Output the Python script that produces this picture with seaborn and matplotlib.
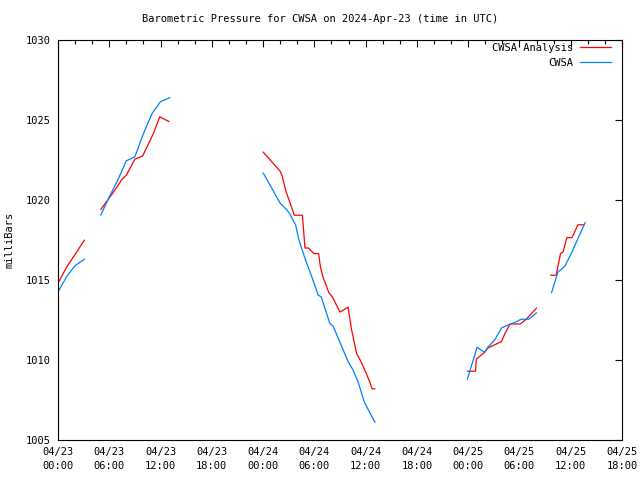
import pandas as pd
import numpy as np
import matplotlib
matplotlib.use('Agg')
import matplotlib.pyplot as plt
import matplotlib.dates as mdates
import seaborn as sns

## data: hours after 2024-04-23 00:00 UTC, pressure in mb
start = pd.Timestamp('2024-04-23 00:00')

# CWSA Analysis (red), one list per unbroken piece
ana_hours = [
    [0, 1, 2, 3.1],
    [5, 6.5, 7.5, 8, 9, 9.9, 10.4, 11.2, 11.9, 13.0],
    [24, 26, 26.2, 26.7, 27.5, 27.65, 28.6, 28.9, 29.3, 29.95, 30.5, 30.7, 31.0,
     31.7, 32.1, 33.0, 33.95, 34.35, 34.95, 35.5, 36.4, 36.75, 37.1],
    [47.9, 48.85, 48.95, 49.95, 50.3, 51.1, 51.9, 52.3, 52.9, 54.1, 54.8, 56.0],
    [57.65, 58.3, 58.8, 59.1, 59.55, 60.15, 60.85, 61.6],
]
ana_vals = [
    [1014.8, 1015.8, 1016.6, 1017.5],
    [1019.4, 1020.5, 1021.3, 1021.55, 1022.55, 1022.75, 1023.3, 1024.2, 1025.2, 1024.9],
    [1023.0, 1021.8, 1021.55, 1020.5, 1019.3, 1019.05, 1019.05, 1017.0, 1017.0, 1016.65,
     1016.65, 1015.85, 1015.2, 1014.2, 1013.95, 1013.0, 1013.3, 1011.9, 1010.4, 1009.85,
     1008.75, 1008.2, 1008.2],
    [1009.3, 1009.3, 1010.05, 1010.5, 1010.75, 1010.95, 1011.15, 1011.65, 1012.25,
     1012.25, 1012.55, 1013.25],
    [1015.3, 1015.3, 1016.65, 1016.75, 1017.65, 1017.65, 1018.45, 1018.45],
]

# CWSA observations (blue)
obs_hours = [
    [0, 1, 2, 3.1],
    [5, 6, 7, 8, 9, 10, 11, 12, 13.1],
    [24, 26, 26.75, 27.1, 27.8, 28.2, 28.9, 29.7, 30.45, 30.8, 31.8, 32.2, 33.95,
     34.5, 35.1, 35.9, 37.1],
    [47.9, 49.05, 49.55, 49.95, 50.3, 51.1, 51.9, 52.5, 53.45, 54.2, 55.1, 56.0],
    [57.75, 58.5, 59.3, 60.1, 60.85, 61.7],
]
obs_vals = [
    [1014.25, 1015.2, 1015.9, 1016.3],
    [1019.05, 1020.2, 1021.25, 1022.45, 1022.7, 1024.15, 1025.4, 1026.15, 1026.4],
    [1021.7, 1019.8, 1019.4, 1019.15, 1018.45, 1017.5, 1016.35, 1015.2, 1014.05,
     1013.95, 1012.3, 1012.1, 1009.9, 1009.4, 1008.65, 1007.3, 1006.1],
    [1008.8, 1010.8, 1010.6, 1010.5, 1010.8, 1011.25, 1012.0, 1012.15, 1012.35,
     1012.55, 1012.55, 1012.95],
    [1014.2, 1015.5, 1015.85, 1016.7, 1017.6, 1018.6],
]

rows = []
for name, hrs, vals in [('CWSA Analysis', ana_hours, ana_vals), ('CWSA', obs_hours, obs_vals)]:
    for seg, (h, v) in enumerate(zip(hrs, vals)):
        for hh, vv in zip(h, v):
            rows.append({'series': name, 'seg': seg,
                         'time': start + pd.Timedelta(hours=hh), 'pressure': vv})
df = pd.DataFrame(rows)

## style
sns.set_style('white')
plt.rcParams['font.family'] = ['DejaVu Sans Mono']
plt.rcParams['font.size'] = 7.5
plt.rcParams['text.color'] = 'black'
plt.rcParams['axes.labelcolor'] = 'black'
plt.rcParams['xtick.color'] = 'black'
plt.rcParams['ytick.color'] = 'black'

colors = {'CWSA Analysis': '#ff0000', 'CWSA': '#0080ff'}

fig = plt.figure(figsize=(6.4, 4.8), dpi=100)
ax = fig.add_axes([58 / 640, 1 - 440 / 480, 564 / 640, 400 / 480])

sns.lineplot(data=df, x='time', y='pressure', hue='series', units='seg',
             estimator=None, palette=colors, linewidth=0.9, legend=False, ax=ax)

ax.set_xlim(start, start + pd.Timedelta(hours=66))
ax.set_ylim(1005, 1030)
ax.set_yticks(range(1005, 1031, 5))
ax.xaxis.set_major_locator(mdates.HourLocator(byhour=[0, 6, 12, 18]))
ax.xaxis.set_minor_locator(mdates.HourLocator(byhour=range(0, 24, 2)))
ax.xaxis.set_major_formatter(mdates.DateFormatter('%m/%d\n%H:%M'))

ax.tick_params(which='both', direction='in', top=True, right=True,
               color='black', labelcolor='black', labelsize=7.5, width=0.8)
ax.tick_params(which='major', length=5, pad=5)
ax.tick_params(which='minor', length=3)
for lab in ax.get_xticklabels():
    lab.set_linespacing(1.5)

for s in ax.spines.values():
    s.set_color('black')
    s.set_linewidth(0.8)

ax.set_xlabel('')
ax.set_ylabel('milliBars', fontsize=7.5, color='black')
ax.yaxis.set_label_coords(-0.077, 0.5)
fig.suptitle('Barometric Pressure for CWSA on 2024-Apr-23 (time in UTC)',
             fontsize=7.5, y=1 - 19 / 480, va='center', color='black')

handles = [plt.Line2D([], [], color=colors[k], lw=0.9) for k in colors]
ax.legend(handles, list(colors), loc='upper right', frameon=False,
          markerfirst=False, handlelength=3.0, handletextpad=0.6,
          labelspacing=0.45, borderpad=0, borderaxespad=0,
          bbox_to_anchor=((611 - 58) / 564, (440 - 43) / 400), fontsize=7.5,
          labelcolor='black')

fig.savefig('out.png', dpi=100)
